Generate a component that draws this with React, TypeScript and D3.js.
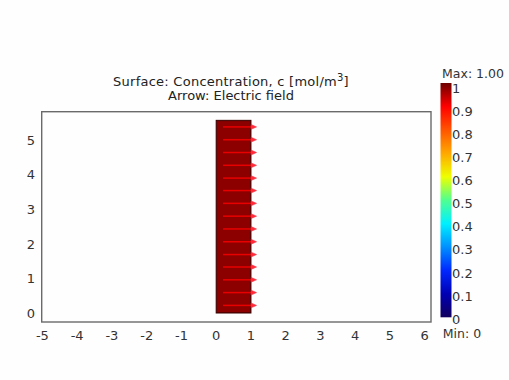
import React from "react";
import * as d3 from "d3";

const xTicks = [-5, -4, -3, -2, -1, 0, 1, 2, 3, 4, 5, 6];
const yTicks = [0, 1, 2, 3, 4, 5];
const xDomain = [-5.02, 6.18];
const yDomain = [-0.26, 5.82];

// domain: rectangle [x0,x1]x[y0,y1] with concentration c = 1
const domainRect = { x0: 0, x1: 1, y0: 0, y1: 5.57, c: 1 };

// arrow grid (electric field, pointing +x)
const arrowYs = [0.22, 0.59, 0.96, 1.33, 1.69, 2.06, 2.43, 2.80, 3.17, 3.54, 3.90, 4.27, 4.64, 5.01, 5.38];
const arrowX0 = 0.2;
const arrowX1 = 1.16;

const colorTicks = [0, 0.1, 0.2, 0.3, 0.4, 0.5, 0.6, 0.7, 0.8, 0.9, 1];
const colorTickLabels = ["0", "0.1", "0.2", "0.3", "0.4", "0.5", "0.6", "0.7", "0.8", "0.9", "1"];
const rainbowStops = [0, 0.1, 0.2, 0.3, 0.4, 0.5, 0.6, 0.7, 0.8, 0.9, 1];
const rainbowColors = ["#12005e", "#0000b4", "#0028ff", "#0090ff", "#00f0ff", "#50ff90", "#eeff00", "#ffa800", "#ff5400", "#ff0000", "#6e0000"];

const titleLine1 = "Surface: Concentration, c [mol/m";
const titleSup = "3";
const titleLine2 = "Arrow: Electric field";
const maxLabel = "Max: 1.00";
const minLabel = "Min: 0";

const FONT = "'DejaVu Sans', Verdana, sans-serif";

export default function App() {
  const W = 509, H = 380;
  const plotL = 41.7, plotR = 431, plotT = 111.7, plotB = 322;
  const x = d3.scaleLinear().domain(xDomain).range([plotL, plotR]);
  const y = d3.scaleLinear().domain(yDomain).range([plotB, plotT]);
  const cbTop = 83, cbBot = 317.3, cbL = 440.5, cbR = 451.5;
  const labelScale = d3.scaleLinear().domain([0, 1]).range([319, 88]);
  const colorMap = d3.scaleLinear<string>().domain(rainbowStops).range(rainbowColors).interpolate(d3.interpolateRgb);

  const arrowPath = (yy: number) => {
    const x0 = x(arrowX0), x1 = x(arrowX1), py = y(yy);
    return `M${x0},${py}L${x1 - 4},${py}`;
  };
  const headPath = (yy: number) => {
    const x1 = x(arrowX1), py = y(yy);
    return `M${x1 - 5.5},${py - 2.4}L${x1},${py}L${x1 - 5.5},${py + 2.4}Z`;
  };

  return (
    <svg width={W} height={H} style={{ position: "absolute", left: 0, top: 0, background: "#fff" }} fontFamily={FONT}>
      <defs>
        <linearGradient id="rainbow" x1="0" y1="1" x2="0" y2="0">
          {rainbowStops.map((s, i) => (
            <stop key={i} offset={s} stopColor={rainbowColors[i]} />
          ))}
        </linearGradient>
      </defs>
      <rect width={W} height={H} fill="#fefefe" />
      {/* title */}
      <text x={231} y={85.5} fontSize={13} letterSpacing={0.25} textAnchor="middle" fill="#222">
        {titleLine1}
        <tspan dy={-5} fontSize={10}>{titleSup}</tspan>
        <tspan dy={5}>]</tspan>
      </text>
      <text x={231} y={99.5} fontSize={13} textAnchor="middle" fill="#222">{titleLine2}</text>

      {/* surface */}
      <rect
        x={x(domainRect.x0)}
        y={y(domainRect.y1)}
        width={x(domainRect.x1) - x(domainRect.x0)}
        height={y(domainRect.y0) - y(domainRect.y1)}
        fill={colorMap(domainRect.c)}
        stroke="#3a0000"
        strokeWidth={1}
      />
      <rect
        x={x(domainRect.x0) + 1}
        y={y(domainRect.y1) + 1}
        width={x(domainRect.x1) - x(domainRect.x0) - 2}
        height={y(domainRect.y0) - y(domainRect.y1) - 2}
        fill="#9a0000"
        opacity={0.7}
      />
      {/* arrows */}
      {arrowYs.map((ay, i) => (
        <g key={i}>
          <path d={arrowPath(ay)} stroke="#ff0000" strokeWidth={1.5} opacity={0.8} />
          <path d={headPath(ay)} fill="#ff2a3a" stroke="#ff2a3a" strokeWidth={0.6} />
        </g>
      ))}

      {/* frame */}
      <rect x={plotL} y={plotT} width={plotR - plotL} height={plotB - plotT} fill="none" stroke="#6a6a6a" strokeWidth={1.4} />

      {/* x tick labels */}
      {xTicks.map((t) => (
        <text key={t} x={x(t)} y={339.5} fontSize={13} textAnchor="middle" fill="#333">{t < 0 ? `-${-t}` : `${t}`}</text>
      ))}
      {/* y tick labels */}
      {yTicks.map((t) => (
        <text key={t} x={31} y={y(t) + 4.8} fontSize={13} textAnchor="middle" fill="#333">{`${t}`}</text>
      ))}

      {/* colorbar */}
      <rect x={cbL} y={cbTop} width={cbR - cbL} height={cbBot - cbTop} fill="url(#rainbow)" />
      {colorTicks.map((t, i) => (
        <text key={t} x={cbR + 0.5} y={labelScale(t) + 4.7} fontSize={13} fill="#333">{colorTickLabels[i]}</text>
      ))}
      <text x={473} y={77.5} fontSize={12.5} textAnchor="middle" fill="#333">{maxLabel}</text>
      <text x={462} y={337.5} fontSize={12.5} textAnchor="middle" fill="#333">{minLabel}</text>
    </svg>
  );
}
